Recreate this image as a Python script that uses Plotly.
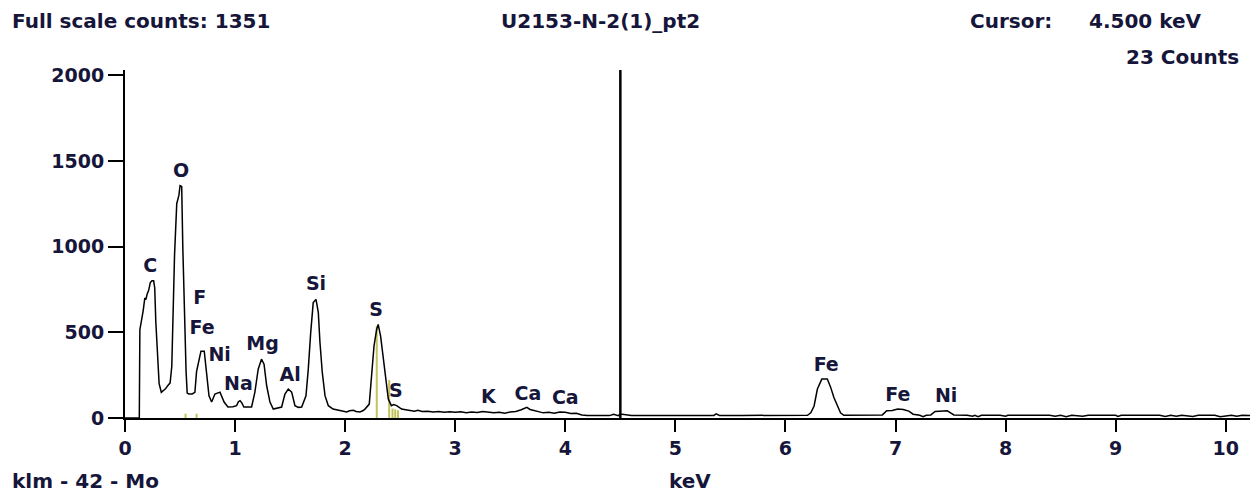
import plotly.graph_objects as go

# ---------------- data ----------------
spectrum_kev = [
    0.00, 0.13, 0.135, 0.15, 0.165, 0.18, 0.19, 0.20, 0.215, 0.23, 0.245, 0.26, 0.27, 0.28, 0.295,
    0.31, 0.33, 0.35, 0.37, 0.39, 0.41, 0.425, 0.435, 0.45, 0.47, 0.49, 0.50, 0.515, 0.525, 0.54,
    0.555, 0.565, 0.58, 0.61, 0.635, 0.65, 0.67, 0.69, 0.72, 0.74, 0.763, 0.787, 0.80, 0.817, 0.863,
    0.88, 0.90, 0.935, 0.98, 1.014, 1.03, 1.045, 1.06, 1.08, 1.15, 1.18, 1.21, 1.24, 1.263, 1.287,
    1.317, 1.347, 1.39, 1.423, 1.453, 1.483, 1.514, 1.544, 1.575, 1.605, 1.644, 1.665, 1.687, 1.71,
    1.735, 1.756, 1.771, 1.792, 1.817, 1.847, 1.89, 1.953, 1.98, 2.014, 2.04, 2.074, 2.10, 2.134,
    2.16, 2.18, 2.219, 2.24, 2.262, 2.286, 2.30, 2.322, 2.346, 2.368, 2.392, 2.42, 2.44, 2.468,
    2.513, 2.55, 2.589, 2.63, 2.66, 2.70, 2.75, 2.80, 2.85, 2.90, 2.95, 3.00, 3.05, 3.10, 3.15,
    3.20, 3.25, 3.30, 3.35, 3.40, 3.45, 3.50, 3.55, 3.60, 3.65, 3.68, 3.72, 3.76, 3.80, 3.85, 3.90,
    3.95, 4.00, 4.05, 4.10, 4.15, 4.20, 4.30, 4.35, 4.40, 4.44, 4.48, 4.50, 4.60, 4.80, 5.00, 5.20,
    5.35, 5.37, 5.40, 5.60, 5.80, 6.00, 6.20, 6.23, 6.26, 6.29, 6.33, 6.38, 6.41, 6.44, 6.47, 6.50,
    6.53, 6.70, 6.88, 6.92, 6.97, 7.02, 7.07, 7.12, 7.16, 7.22, 7.25, 7.28, 7.32, 7.36, 7.42, 7.47,
    7.50, 7.53, 7.65, 7.70, 7.72, 7.75, 7.78, 7.95, 8.00, 8.02, 8.40, 8.45, 8.50, 8.55, 8.60, 8.70,
    8.75, 9.00, 9.02, 9.05, 9.40, 9.45, 9.50, 9.55, 9.60, 9.70, 9.75, 9.90, 9.95, 10.00, 10.05,
    10.10, 10.15, 10.22,
]
spectrum_counts = [
    0, 0, 515, 560, 625, 700, 690, 720, 745, 790, 800, 800, 760, 560, 330,
    200, 150, 160, 172, 190, 205, 300, 575, 950, 1250, 1300, 1355, 1350, 1000, 560,
    270, 145, 140, 140, 150, 270, 330, 390, 390, 267, 130, 93, 110, 140, 151,
    120, 93, 64, 66, 72, 95, 101, 90, 64, 64, 151, 285, 343, 314, 188,
    93, 52, 58, 64, 140, 169, 151, 72, 62, 64, 130, 285, 498, 673,
    692, 616, 442, 267, 130, 72, 52, 45, 40, 35, 42, 45, 38, 35,
    42, 52, 81, 246, 420, 517, 546, 478, 362, 227, 110, 72, 78, 72,
    52, 48, 45, 40, 45, 38, 40, 35, 38, 34, 37, 33, 36, 31, 35,
    32, 38, 36, 30, 33, 28, 35, 38, 48, 62, 50, 42, 36, 30, 34, 28,
    35, 33, 26, 28, 18, 15, 14, 15, 14, 22, 14, 23, 14, 15, 15, 15,
    15, 24, 15, 15, 15, 15, 16, 30, 70, 169, 227, 227, 180, 120, 70, 30,
    16, 16, 18, 42, 44, 52, 50, 40, 22, 16, 8, 16, 18, 38, 40, 42,
    30, 18, 16, 10, 16, 8, 16, 16, 10, 16, 16, 10, 16, 8, 16, 10,
    16, 16, 9, 16, 16, 9, 16, 10, 16, 9, 16, 16, 8, 10, 16,
    10, 16, 14,
]

# KLM marker lines (energy, height)
marker_kev = [0.55, 0.65, 2.287, 2.40, 2.43, 2.455, 2.48]
marker_top = [25, 25, 537, 222, 55, 50, 45]

# element labels
label_text = ["C", "O", "F", "Fe", "Ni", "Na", "Mg", "Al", "Si", "S", "S", "K", "Ca", "Ca", "Fe", "Fe", "Ni"]
label_kev = [0.23, 0.51, 0.68, 0.70, 0.86, 1.03, 1.25, 1.50, 1.735, 2.28, 2.46, 3.30, 3.66, 4.00, 6.37, 7.02, 7.46]
label_cnt = [878, 1436, 692, 517, 360, 192, 424, 244, 773, 622, 151, 116, 134, 110, 302, 128, 122]

cursor_kev = 4.5
cursor_top = 2030

x_ticks = [0, 1, 2, 3, 4, 5, 6, 7, 8, 9, 10]
y_ticks = [0, 500, 1000, 1500, 2000]

title_left = "Full scale counts: 1351"
title_mid = "U2153-N-2(1)_pt2"
cursor_label = "Cursor:"
cursor_value = "4.500 keV"
cursor_counts = "23 Counts"
footer_left = "klm - 42 - Mo"
x_title = "keV"

# ---------------- figure ----------------
FONT = "DejaVu Sans"
TXT = "#16163a"

fig = go.Figure()

mx, my = [], []
for k, t in zip(marker_kev, marker_top):
    mx += [k, k, None]
    my += [0, t, None]
fig.add_trace(go.Scatter(x=mx, y=my, mode="lines",
                         line=dict(color="#c2c25a", width=2), hoverinfo="skip"))

fig.add_trace(go.Scatter(x=spectrum_kev, y=spectrum_counts, mode="lines",
                         line=dict(color="black", width=1.5), hoverinfo="skip"))

fig.add_trace(go.Scatter(x=[cursor_kev, cursor_kev], y=[0, cursor_top], mode="lines",
                         line=dict(color="black", width=2.5), hoverinfo="skip"))

fig.add_trace(go.Scatter(x=label_kev, y=label_cnt, mode="text", text=label_text,
                         textfont=dict(family=FONT, size=19, color=TXT, weight="bold"),
                         textposition="middle center", hoverinfo="skip"))

L, R, T, B = 125, 2, 70, 77
W, H = 1252, 495
pw, ph = W - L - R, H - T - B


def px(x):
    return (x - L) / pw


def py(y):
    return (H - B - y) / ph


def ann(text, x, y, xanchor="left", size=19):
    return dict(text=text, x=px(x), y=py(y), xref="paper", yref="paper",
                xanchor=xanchor, yanchor="middle", showarrow=False,
                font=dict(family=FONT, size=size, color=TXT, weight="bold"))


fig.update_layout(
    width=W, height=H,
    margin=dict(l=L, r=R, t=T, b=B),
    paper_bgcolor="white", plot_bgcolor="white",
    showlegend=False,
    hovermode=False,
    xaxis=dict(range=[0, 10.22], tickvals=x_ticks, ticks="outside", ticklen=12, tickwidth=2,
               tickcolor="black", showline=True, linecolor="black", linewidth=2,
               showgrid=False, zeroline=False,
               tickfont=dict(family=FONT, size=19, color=TXT, weight="bold")),
    yaxis=dict(range=[0, 2030], tickvals=y_ticks, ticks="outside", ticklen=15, tickwidth=2,
               tickcolor="black", showline=True, linecolor="black", linewidth=2,
               showgrid=False, zeroline=False,
               tickfont=dict(family=FONT, size=19, color=TXT, weight="bold")),
    annotations=[
        ann(title_left, 10, 21, size=20),
        ann(title_mid, 600, 21, "center", size=20),
        ann(cursor_label, 968, 21, size=20),
        ann(cursor_value, 1087, 21, size=20),
        ann(cursor_counts, 1241, 57, "right", size=20),
        ann(footer_left, 10, 481, size=20),
        ann(x_title, 690, 481, "center", size=20),
    ],
)

fig.write_html("out.html",
               config={"displayModeBar": False, "staticPlot": True},
               post_script="document.body.style.margin='0';document.body.style.overflow='hidden';")
